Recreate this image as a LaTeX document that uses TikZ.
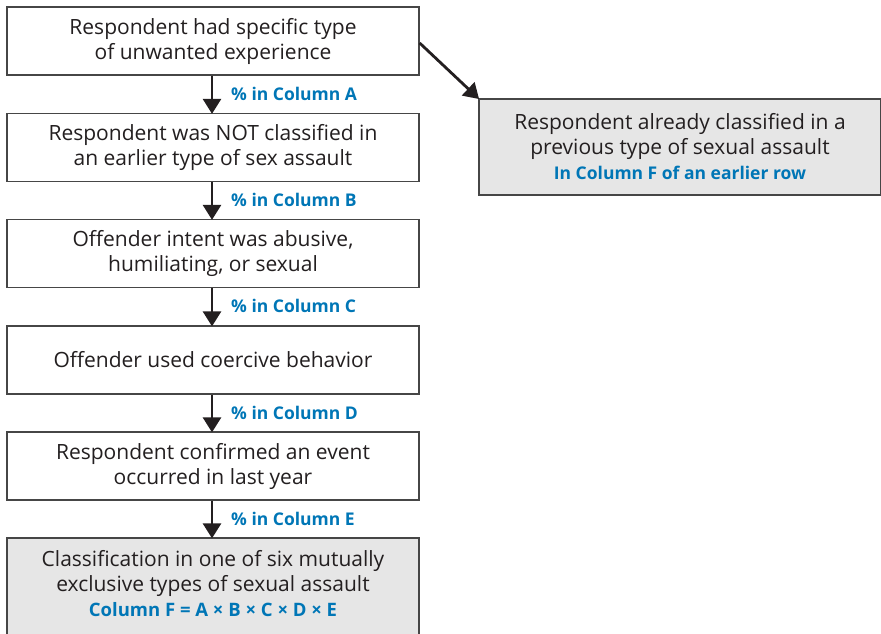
\documentclass[tikz,border=0pt]{standalone}
\usepackage{fontspec}
\setmainfont{Open Sans}
\usetikzlibrary{arrows.meta}
\definecolor{txt}{RGB}{35,31,32}
\definecolor{lblue}{RGB}{0,118,182}
\definecolor{boxgrey}{RGB}{230,230,230}
\definecolor{edge}{RGB}{70,70,70}
\tikzset{
  flowbox/.style={draw=edge, line width=1.3pt, fill=white, minimum width=412pt, minimum height=68pt, align=center, text=txt, font=\fontsize{21}{25}\selectfont, inner sep=0pt},
  greybox/.style={flowbox, fill=boxgrey},
  lbl/.style={anchor=west, text=lblue, font=\fontsize{17.5}{20}\selectfont\bfseries, inner sep=0pt},
  arr/.style={draw=txt, line width=2.8pt, -{Triangle[length=15pt,width=18pt]}, shorten >=-1pt},
}
\newcommand{\bluebold}[2][17.5]{{\color{lblue}\fontsize{#1}{20}\selectfont\bfseries #2}}
\begin{document}
\begin{tikzpicture}[x=1pt,y=-1pt]
\useasboundingbox (0,0) rectangle (881,633);
\node[flowbox] (b1) at (213,41) {Respondent had specific type\\of unwanted experience};
\node[flowbox] (b2) at (213,147.5) {Respondent was NOT classified in\\an earlier type of sex assault};
\node[flowbox] (b3) at (213,253.5) {Offender intent was abusive,\\humiliating, or sexual};
\node[flowbox] (b4) at (213,360) {Offender used coercive behavior};
\node[flowbox] (b5) at (213,466) {Respondent confirmed an event\\occurred in last year};
\node[greybox, minimum height=104pt] (b6) at (213,590) {};
\node[text=txt, align=center, font=\fontsize{21}{25}\selectfont, inner sep=0pt] (t6) at (213,584) {Classification in one of six mutually\\exclusive types of sexual assault\\[0pt]\bluebold[18.5]{Column F = A × B × C × D × E}};
\node[greybox, minimum width=402pt, minimum height=96pt] (r) at (680,147) {Respondent already classified in a\\previous type of sexual assault\\[0pt]\bluebold{In Column F of an earlier row}};
\coordinate (bs) at (212,0);
\draw[arr] (b1.south -| bs) -- (b2.north -| bs);
\draw[arr] (b2.south -| bs) -- (b3.north -| bs);
\draw[arr] (b3.south -| bs) -- (b4.north -| bs);
\draw[arr] (b4.south -| bs) -- (b5.north -| bs);
\draw[arr] (b5.south -| bs) -- (b6.north -| bs);
\draw[arr] (b1.east) ++(0,2) -- (r.north west);
\node[lbl] (la) at (231,94) {\% in Column A};
\node[lbl] (lb) at (231,200) {\% in Column B};
\node[lbl] (lc) at (231,306) {\% in Column C};
\node[lbl] (ld) at (231,413) {\% in Column D};
\node[lbl] (le) at (231,519) {\% in Column E};
\end{tikzpicture}
\end{document}
